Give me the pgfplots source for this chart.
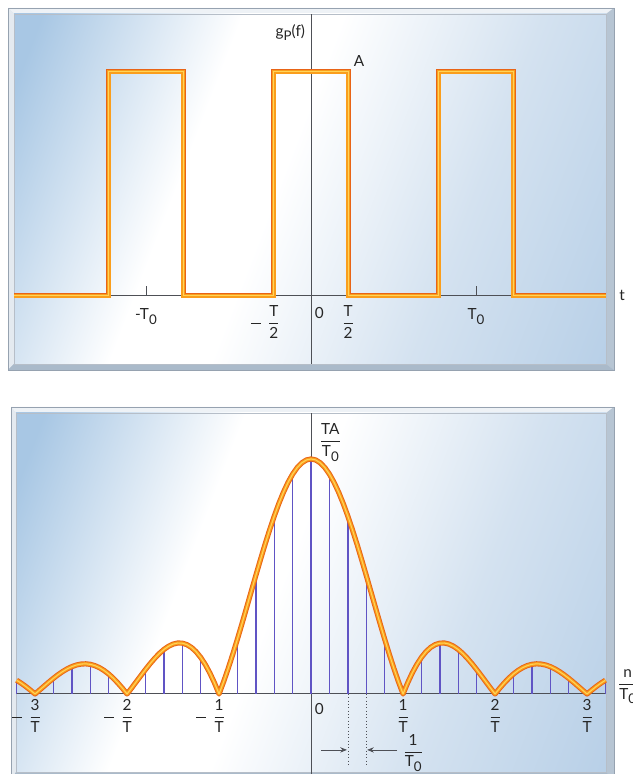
\documentclass[border=0pt]{standalone}
\usepackage{pgfplots}
\pgfplotsset{compat=1.18}
\usepackage{pgfplotstable}
\usepackage{fontspec}
\setmainfont{Lato}
\usetikzlibrary{arrows.meta}

\definecolor{pulseedge}{RGB}{232,100,22}
\definecolor{pulsemid}{RGB}{250,158,28}
\definecolor{pulsecore}{RGB}{255,212,88}
\definecolor{axisgray}{RGB}{78,80,86}
\definecolor{linepurple}{RGB}{96,84,196}
\definecolor{panelblue}{RGB}{168,199,228}
\definecolor{panelpale}{RGB}{212,226,240}
\definecolor{panelright}{RGB}{180,205,230}
\definecolor{framelight}{RGB}{238,242,246}
\definecolor{framemid}{RGB}{212,222,232}
\definecolor{framedark}{RGB}{170,186,202}
\definecolor{frameline}{RGB}{150,162,176}

\pgfdeclarehorizontalshading{glass}{100bp}{%
  color(0bp)=(panelblue); color(20bp)=(panelblue); color(38bp)=(white);
  color(47bp)=(white); color(65bp)=(panelpale); color(85bp)=(panelright);
  color(100bp)=(panelright)}

\newcommand\lbl{\fontsize{11.5}{13}\selectfont}
\newcommand\sub[1]{\raisebox{-0.55ex}{\fontsize{10}{11}\selectfont #1}}
\newcommand\fr[2]{$\displaystyle{\hbox{#1}\over\hbox{#2}}$}
\newcommand\nfr[2]{$\displaystyle\llap{$\vcenter{\hrule width 7.5pt height 0.35pt depth 0.35pt}$\hspace{5pt}}{\hbox{#1}\over\hbox{#2}}$}

% rectangular pulse train (t in units of T0, amplitude A = 1)
\pgfplotstableread{
t g
-1.80 0
-1.225 0
-1.225 1
-0.775 1
-0.775 0
-0.225 0
-0.225 1
0.225 1
0.225 0
0.775 0
0.775 1
1.225 1
1.225 0
1.79 0
}\pulses

% spectrum envelope |sinc(fT)| (f in units of 1/T, peak TA/T0 = 1)
\pgfplotstableread{
f s
-3.20 0.05847
-3.15 0.04588
-3.10 0.03173
-3.05 0.01633
-3.00 0
-2.95 0.01688
-2.90 0.03392
-2.85 0.05071
-2.80 0.06682
-2.75 0.08185
-2.70 0.09538
-2.65 0.10703
-2.60 0.11643
-2.55 0.12329
-2.50 0.12732
-2.45 0.12832
-2.40 0.12614
-2.35 0.12069
-2.30 0.11196
-2.25 0.10004
-2.20 0.08505
-2.15 0.06721
-2.10 0.04684
-2.05 0.02429
-2.00 0
-1.95 0.02554
-1.90 0.05177
-1.85 0.07811
-1.80 0.10394
-1.75 0.12862
-1.70 0.15148
-1.65 0.17189
-1.60 0.18921
-1.55 0.20283
-1.50 0.21221
-1.45 0.21682
-1.40 0.21624
-1.35 0.21009
-1.30 0.19809
-1.25 0.18006
-1.20 0.15592
-1.15 0.12566
-1.10 0.08942
-1.05 0.04742
-1.00 0
-0.95 0.05241
-0.90 0.10929
-0.85 0.17001
-0.80 0.23387
-0.75 0.30011
-0.70 0.36789
-0.65 0.43633
-0.60 0.50455
-0.55 0.57162
-0.50 0.63662
-0.45 0.69865
-0.40 0.75683
-0.35 0.81033
-0.30 0.85839
-0.25 0.90032
-0.20 0.93549
-0.15 0.96340
-0.10 0.98363
-0.05 0.99589
0.00 1
0.05 0.99589
0.10 0.98363
0.15 0.96340
0.20 0.93549
0.25 0.90032
0.30 0.85839
0.35 0.81033
0.40 0.75683
0.45 0.69865
0.50 0.63662
0.55 0.57162
0.60 0.50455
0.65 0.43633
0.70 0.36789
0.75 0.30011
0.80 0.23387
0.85 0.17001
0.90 0.10929
0.95 0.05241
1.00 0
1.05 0.04742
1.10 0.08942
1.15 0.12566
1.20 0.15592
1.25 0.18006
1.30 0.19809
1.35 0.21009
1.40 0.21624
1.45 0.21682
1.50 0.21221
1.55 0.20283
1.60 0.18921
1.65 0.17189
1.70 0.15148
1.75 0.12862
1.80 0.10394
1.85 0.07811
1.90 0.05177
1.95 0.02554
2.00 0
2.05 0.02429
2.10 0.04684
2.15 0.06721
2.20 0.08505
2.25 0.10004
2.30 0.11196
2.35 0.12069
2.40 0.12614
2.45 0.12832
2.50 0.12732
2.55 0.12329
2.60 0.11643
2.65 0.10703
2.70 0.09538
2.75 0.08185
2.80 0.06682
2.85 0.05071
2.90 0.03392
2.95 0.01688
3.00 0
3.05 0.01633
3.10 0.03173
3.15 0.04588
3.20 0.05847
}\envelope

% spectral lines at n/T0 with T0 = 5T
\pgfplotstableread{
f c
-3.2 0.05847
-3.0 0
-2.8 0.06682
-2.6 0.11643
-2.4 0.12614
-2.2 0.08505
-2.0 0
-1.8 0.10394
-1.6 0.18921
-1.4 0.21624
-1.2 0.15592
-1.0 0
-0.8 0.23387
-0.6 0.50455
-0.4 0.75683
-0.2 0.93549
0.0 1
0.2 0.93549
0.4 0.75683
0.6 0.50455
0.8 0.23387
1.0 0
1.2 0.15592
1.4 0.21624
1.6 0.18921
1.8 0.10394
2.0 0
2.2 0.08505
2.4 0.12614
2.6 0.11643
2.8 0.06682
3.0 0
3.2 0.05847
}\lines

\begin{document}
\begin{tikzpicture}[x=0.75pt, y=0.75pt]
  % ---------- frames ----------
  % upper panel
  \fill[framemid] (8,404) rectangle (614,766);
  \fill[framelight] (8,766) -- (614,766) -- (606,760) -- (14,760) -- cycle;
  \fill[framelight!60!framemid] (8,766) -- (14,760) -- (14,410) -- (8,404) -- cycle;
  \fill[framedark!70!framemid] (614,766) -- (614,404) -- (606,410) -- (606,760) -- cycle;
  \fill[framedark] (8,404) -- (614,404) -- (606,410) -- (14,410) -- cycle;
  \draw[frameline, line width=0.5pt] (8,404) rectangle (614,766);
  \shade[shading=glass, shading angle=-21] (14,410) rectangle (606,760);
  \draw[frameline!70, line width=0.4pt] (14,410) rectangle (606,760);
  % lower panel
  \fill[framemid] (11,-6) rectangle (614,367);
  \fill[framelight] (11,367) -- (614,367) -- (606,361) -- (16,361) -- cycle;
  \fill[framelight!60!framemid] (11,367) -- (16,361) -- (16,2) -- (11,-6) -- cycle;
  \fill[framedark!70!framemid] (614,367) -- (614,-6) -- (606,2) -- (606,361) -- cycle;
  \fill[framedark] (11,-6) -- (614,-6) -- (606,2) -- (16,2) -- cycle;
  \draw[frameline, line width=0.5pt] (11,-6) rectangle (614,367);
  \shade[shading=glass, shading angle=-21] (16,2) rectangle (606,361);
  \draw[frameline!70, line width=0.4pt] (16,2) rectangle (606,361);

  % lower-left corners of the two plotting areas
  \coordinate (upperSW) at (14,410);
  \coordinate (lowerSW) at (16,2);

  % ---------- periodic rectangular pulses ----------
  \begin{axis}[anchor=south west, at={(upperSW)}, x=123.75pt, y=168pt,
    xmin=-1.8, xmax=1.79, ymin=-0.304, ymax=1.259,
    hide axis, clip=false]
    \draw[axisgray, line width=0.75pt] (axis cs:0,-0.304) -- (axis cs:0,1.259);
    \draw[axisgray, line width=0.75pt] (axis cs:-1.8,0) -- (axis cs:1.79,0);
    \draw[axisgray, line width=0.75pt] (axis cs:-1,0) -- (axis cs:-1,0.042);
    \draw[axisgray, line width=0.75pt] (axis cs:1,0) -- (axis cs:1,0.042);
    \addplot[pulseedge, line width=3.9pt, line join=miter] table[x=t, y=g] {\pulses};
    \addplot[pulsemid, line width=2.5pt, line join=miter] table[x=t, y=g] {\pulses};
    \addplot[pulsecore, line width=0.8pt, line join=miter] table[x=t, y=g] {\pulses};
    \node[text=black!85] at (axis cs:-0.125,1.174) {\lbl g\sub{P}(f)};
    \node[text=black!85] at (axis cs:0.291,1.049) {\lbl A};
    \node[text=black!85] at (axis cs:1.885,0) {\lbl t};
    \node[text=black!85] at (axis cs:-1.0,-0.092) {\lbl -T\sub{0}};
    \node[text=black!85] at (axis cs:1.0,-0.092) {\lbl T\sub{0}};
    \node[text=black!85] at (axis cs:0.05,-0.078) {\lbl 0};
    \node[text=black!85] at (axis cs:-0.225,-0.115) {\lbl\nfr{T}{2}};
    \node[text=black!85] at (axis cs:0.225,-0.115) {\lbl\fr{T}{2}};
  \end{axis}

  % ---------- line spectrum ----------
  \begin{axis}[anchor=south west, at={(lowerSW)}, x=69pt, y=176.25pt,
    xmin=-3.207, xmax=3.207, ymin=-0.332, ymax=1.196,
    hide axis, clip=false]
    \draw[axisgray, line width=0.75pt] (axis cs:0,-0.35) -- (axis cs:0,1.196);
    \draw[axisgray, line width=0.75pt] (axis cs:-3.207,0) -- (axis cs:3.207,0);
    \addplot[ycomb, linepurple, line width=1.1pt, mark=none] table[x=f, y=c] {\lines};
    \addplot[pulseedge, line width=3.9pt, line join=round] table[x=f, y=s] {\envelope};
    \addplot[pulsemid, line width=2.5pt, line join=round] table[x=f, y=s] {\envelope};
    \addplot[pulsecore, line width=0.8pt, line join=round] table[x=f, y=s] {\envelope};
    % spacing of the lines
    \draw[axisgray, line width=0.5pt, dotted] (axis cs:0.4,0) -- (axis cs:0.4,-0.31);
    \draw[axisgray, line width=0.5pt, dotted] (axis cs:0.6,0) -- (axis cs:0.6,-0.31);
    \draw[axisgray, line width=0.6pt, -{Stealth[length=5pt,width=4pt]}] (axis cs:0.109,-0.238) -- (axis cs:0.39,-0.238);
    \draw[axisgray, line width=0.6pt, -{Stealth[length=5pt,width=4pt]}] (axis cs:0.935,-0.238) -- (axis cs:0.61,-0.238);
    \node[text=black!85] at (axis cs:1.11,-0.25) {\lbl\fr{1}{T\sub{0}}};
    \node[text=black!85] at (axis cs:0.21,1.07) {\lbl\fr{TA}{T\sub{0}}};
    \node[text=black!85] at (axis cs:0.09,-0.066) {\lbl 0};
    \node[text=black!85] at (axis cs:-3,-0.092) {\lbl\nfr{3}{T}};
    \node[text=black!85] at (axis cs:-2,-0.092) {\lbl\nfr{2}{T}};
    \node[text=black!85] at (axis cs:-1,-0.092) {\lbl\nfr{1}{T}};
    \node[text=black!85] at (axis cs:1,-0.092) {\lbl\fr{1}{T}};
    \node[text=black!85] at (axis cs:2,-0.092) {\lbl\fr{2}{T}};
    \node[text=black!85] at (axis cs:3,-0.092) {\lbl\fr{3}{T}};
    \node[text=black!85, anchor=west, inner sep=0pt] at (axis cs:3.33,0.03) {\lbl\fr{n}{T\sub{0}}};
  \end{axis}

  \pgfresetboundingbox
  \path (0,0) rectangle (632,774);
\end{tikzpicture}
\end{document}
